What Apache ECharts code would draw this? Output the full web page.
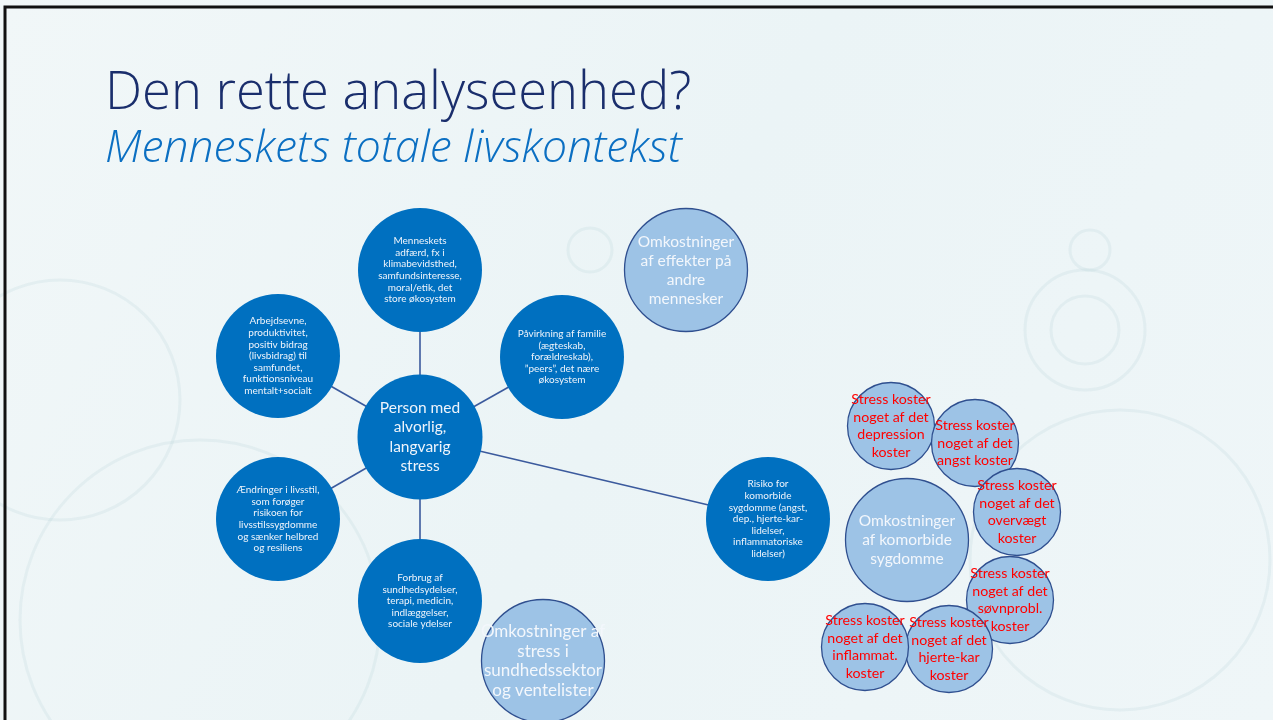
<!DOCTYPE html>
<html>
<head>
<meta charset="utf-8">
<title>Den rette analyseenhed?</title>
<script src="https://cdn.jsdelivr.net/npm/echarts@6/dist/echarts.min.js"></script>
<style>
  html, body { margin: 0; padding: 0; background: #eef5f7; }
  #chart { width: 1273px; height: 720px; }
</style>
</head>
<body>
<div id="chart"></div>
<script>
// noder i diagrammet
const nodeNames = [
  'person', 'adfaerd', 'arbejde', 'familie', 'livsstil', 'forbrug', 'risiko',
  'effekter', 'sundhed', 'komorbide',
  'depression', 'angst', 'overvaegt', 'soevn', 'hjerte', 'inflammat'
]
const nodeLabels = [
  'Person med\nalvorlig,\nlangvarig\nstress',
  'Menneskets\nadfærd, fx i\nklimabevidsthed,\nsamfundsinteresse,\nmoral/etik, det\nstore økosystem',
  'Arbejdsevne,\nproduktivitet,\npositiv bidrag\n(livsbidrag) til\nsamfundet,\nfunktionsniveau\nmentalt+socialt',
  'Påvirkning af familie\n(ægteskab,\nforældreskab),\n\u201dpeers\u201d, det nære\nøkosystem',
  'Ændringer i livsstil,\nsom forøger\nrisikoen for\nlivsstilssygdomme\nog sænker helbred\nog resiliens',
  'Forbrug af\nsundhedsydelser,\nterapi, medicin,\nindlæggelser,\nsociale ydelser',
  'Risiko for\nkomorbide\nsygdomme (angst,\ndep., hjerte-kar-\nlidelser,\ninflammatoriske\nlidelser)',
  'Omkostninger\naf effekter på\nandre\nmennesker',
  'Omkostninger af\nstress i\nsundhedssektor\nog ventelister',
  'Omkostninger\naf komorbide\nsygdomme',
  'Stress koster\nnoget af det\ndepression\nkoster',
  'Stress koster\nnoget af det\nangst koster',
  'Stress koster\nnoget af det\novervægt\nkoster',
  'Stress koster\nnoget af det\nsøvnprobl.\nkoster',
  'Stress koster\nnoget af det\nhjerte-kar\nkoster',
  'Stress koster\nnoget af det\ninflammat.\nkoster'
]
const nodeKind = [
  'core', 'dark', 'dark', 'dark', 'dark', 'dark', 'dark',
  'cost', 'costBig', 'cost',
  'red', 'red', 'red', 'red', 'red', 'red'
]
// placering i diagrammets eget koordinatsystem (0..1273 x 0..720)
const nodeX = [420, 420, 278, 562, 278, 420, 768, 686, 543, 907, 891, 975, 1017, 1010, 949, 865]
const nodeY = [437, 270, 356, 357, 519, 601, 519, 270, 661, 540, 426, 443, 512, 600, 649, 647]

const linkFrom = ['person', 'person', 'person', 'person', 'person', 'person']
const linkTo = ['adfaerd', 'arbejde', 'familie', 'livsstil', 'forbrug', 'risiko']

const kindStyle = {
  core: {
    size: 125,
    item: { color: '#0070c0' },
    label: { color: '#eef4fb', fontSize: 15.5, lineHeight: 19.5 }
  },
  dark: {
    size: 124,
    item: { color: '#0070c0' },
    label: { color: '#eef4fb', fontSize: 10, lineHeight: 11.6 }
  },
  cost: {
    size: 123,
    item: { color: '#9dc3e6', borderColor: '#2f4f8f', borderWidth: 1.3 },
    label: { color: '#f3f7fc', fontSize: 15.5, lineHeight: 19 }
  },
  costBig: {
    size: 123,
    item: { color: '#9dc3e6', borderColor: '#2f4f8f', borderWidth: 1.3 },
    label: { color: '#f3f7fc', fontSize: 17, lineHeight: 19.5 }
  },
  red: {
    size: 87,
    item: { color: '#9dc3e6', borderColor: '#2f4f8f', borderWidth: 1.3 },
    label: { color: '#ff0000', fontSize: 14.2, lineHeight: 17.5 }
  }
}

const nodes = nodeNames.map((name, i) => {
  const st = kindStyle[nodeKind[i]]
  return {
    name,
    value: [nodeX[i], nodeY[i]],
    symbolSize: st.size,
    itemStyle: st.item,
    label: Object.assign({ show: true, formatter: nodeLabels[i], fontFamily: 'Lato' }, st.label)
  }
})
const links = linkFrom.map((s, i) => ({ source: s, target: linkTo[i] }))

// svage ringe i baggrunden (vandoverflade)
const ripples = [
  [1085, 330, 34], [1085, 330, 60], [1090, 250, 20], [590, 250, 22],
  [1120, 560, 150], [200, 620, 180], [60, 400, 120]
].map(([cx, cy, r]) => ({
  type: 'circle',
  silent: true,
  shape: { cx, cy, r },
  style: { fill: 'none', stroke: 'rgba(170,205,212,0.18)', lineWidth: 3 }
}))

const chart = echarts.init(document.getElementById('chart'))
chart.setOption({
  backgroundColor: {
    type: 'linear', x: 0, y: 0, x2: 1, y2: 1,
    colorStops: [
      { offset: 0, color: '#f1f7f8' },
      { offset: 0.5, color: '#ebf4f6' },
      { offset: 1, color: '#eff6f8' }
    ]
  },
  title: {
    text: 'Den rette analyseenhed?',
    subtext: 'Menneskets totale livskontekst',
    left: 100,
    top: 63,
    itemGap: 6,
    textStyle: { fontFamily: 'Open Sans', fontWeight: 300, fontSize: 52.5, color: '#1a2e6c' },
    subtextStyle: { fontFamily: 'Open Sans', fontStyle: 'italic', fontWeight: 300, fontSize: 44.5, color: '#0b6fc2' }
  },
  graphic: [
    ...ripples,
    {
      type: 'rect',
      silent: true,
      shape: { x: 5, y: 7, width: 1400, height: 800 },
      style: { fill: 'none', stroke: '#111', lineWidth: 3 },
      z: 100
    }
  ],
  grid: { left: 0, right: 0, top: 0, bottom: 0 },
  xAxis: { type: 'value', min: 0, max: 1273, show: false },
  yAxis: { type: 'value', min: 0, max: 720, inverse: true, show: false },
  series: [{
    type: 'graph',
    coordinateSystem: 'cartesian2d',
    layout: 'none',
    symbol: 'circle',
    data: nodes,
    links,
    lineStyle: { color: '#3b5a9d', width: 1.6, opacity: 1 },
    emphasis: { disabled: true },
    label: { position: 'inside', align: 'center', verticalAlign: 'middle' }
  }]
})
</script>
</body>
</html>
